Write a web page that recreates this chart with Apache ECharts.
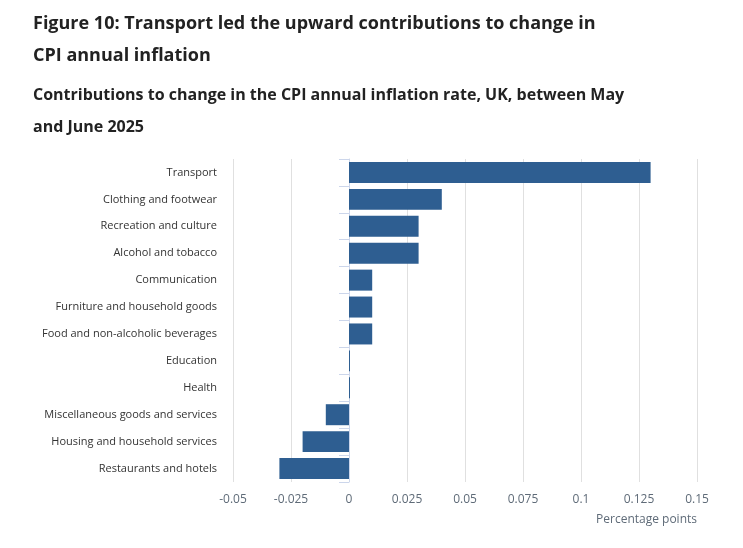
<!DOCTYPE html>
<html>
<head>
    <meta charset="utf-8">
    <title>Figure 10</title>
    <script src="https://cdn.jsdelivr.net/npm/echarts@6/dist/echarts.min.js"></script>
    <style>
        body { margin: 0; background: #fff; }
    </style>
</head>
<body>
    <div id="main" style="width: 743px;height:548px;"></div>
<script type="text/javascript">
    // data
    var categories = [
        'Transport',
        'Clothing and footwear',
        'Recreation and culture',
        'Alcohol and tobacco',
        'Communication',
        'Furniture and household goods',
        'Food and non-alcoholic beverages',
        'Education',
        'Health',
        'Miscellaneous goods and services',
        'Housing and household services',
        'Restaurants and hotels'
    ];
    var contributions = [0.13, 0.04, 0.03, 0.03, 0.01, 0.01, 0.01, 0, 0, -0.01, -0.02, -0.03];
    var xTicks = [-0.05, -0.025, 0, 0.025, 0.05, 0.075, 0.1, 0.125, 0.15];

    var myChart = echarts.init(document.getElementById('main'));

    var font = '"Open Sans", "Noto Sans", sans-serif';

    var option = {
        animation: false,
        textStyle: { fontFamily: font },
        title: [
            {
                text: 'Figure 10: Transport led the upward contributions to change in\nCPI annual inflation',
                left: 28, top: 3,
                textStyle: { fontSize: 18, fontWeight: 'bold', color: '#222222', lineHeight: 32, fontFamily: font }
            },
            {
                text: 'Contributions to change in the CPI annual inflation rate, UK, between May\nand June 2025',
                left: 28, top: 74,
                textStyle: { fontSize: 16, fontWeight: 'bold', color: '#222222', lineHeight: 32, fontFamily: font }
            }
        ],
        grid: { left: 233, right: 46, top: 159, bottom: 66, containLabel: false },
        xAxis: {
            type: 'value',
            min: xTicks[0],
            max: xTicks[xTicks.length - 1],
            interval: 0.025,
            name: 'Percentage points',
            nameLocation: 'end',
            nameGap: 0,
            nameTextStyle: {
                color: '#5f6b78', fontSize: 12,
                align: 'right', verticalAlign: 'top',
                padding: [32, 0, 0, 0]
            },
            axisLine: { show: false },
            axisTick: { show: false },
            axisLabel: {
                color: '#5f6b78', fontSize: 12, margin: 12,
                formatter: function (v) { return String(+v.toFixed(3)); }
            },
            splitLine: { show: true, lineStyle: { color: '#e0e0e0', width: 1 } }
        },
        yAxis: {
            type: 'category',
            inverse: true,
            data: categories,
            axisLine: { show: true, lineStyle: { color: '#ccd6eb' } },
            axisTick: { show: true, length: 10, alignWithLabel: false, lineStyle: { color: '#ccd6eb' } },
            axisLabel: { color: '#333333', fontSize: 11, margin: 16, padding: [3, 0, 0, 0] }
        },
        series: [
            {
                type: 'bar',
                data: contributions,
                barCategoryGap: '22%',
                barMinHeight: 1,
                itemStyle: { color: '#2e5e91' }
            }
        ]
    };

    myChart.setOption(option);
</script>
</body>
</html>
